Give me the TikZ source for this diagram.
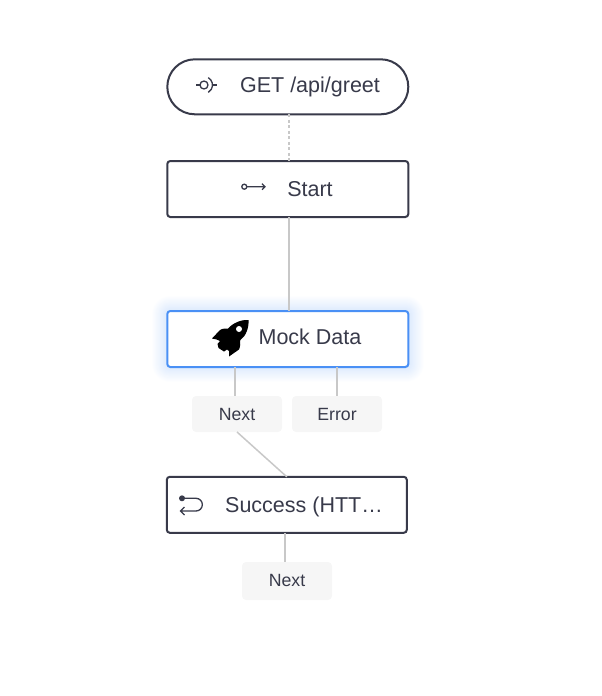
\documentclass[tikz,border=0pt]{standalone}
\usepackage{fontspec}
\setmainfont{Liberation Sans}
\definecolor{inkcol}{RGB}{56,58,74}
\definecolor{linkcol}{RGB}{200,200,200}
\definecolor{focuscol}{RGB}{74,144,245}
\definecolor{tagcol}{RGB}{246,246,246}
\tikzset{
  nbox/.style    = {draw=inkcol, line width=2pt, fill=white, rounded corners=3pt, outer sep=0pt, inner sep=0pt},
  nlab/.style    = {text=inkcol, anchor=base, inner sep=0pt, font=\fontsize{21.5}{24}\selectfont},
  taglab/.style  = {fill=tagcol, rounded corners=4pt, minimum width=90pt, outer sep=0pt, inner sep=0pt, text=inkcol, font=\fontsize{17.7}{20}\selectfont},
  elink/.style   = {draw=linkcol, line width=1.5pt},
  icon/.style    = {draw=inkcol, line width=1.3pt},
}
\begin{document}
\begin{tikzpicture}[x=1pt, y=-1pt]
\useasboundingbox (0,0) rectangle (602,696);
\foreach \g in {15,14,...,1} {
  \fill[focuscol, opacity=0.012, rounded corners=\g pt+3pt] (167-\g,311-\g) rectangle (409+\g,367+\g);
}
\node[nbox, rounded corners=27.5pt, minimum width=241pt, minimum height=55pt] (entry) at (287.8,86.8) {};
\node[nbox, minimum width=241pt, minimum height=56pt] (start) at (287.8,189) {};
\node[nbox, draw=focuscol, minimum width=241pt, minimum height=56pt] (mock) at (287.8,339) {};
\node[nbox, minimum width=240pt, minimum height=56pt] (success) at (286.8,504.8) {};
\node[taglab, minimum height=36pt] (mocknext) at (237,414) {\raisebox{-0.6pt}{Next}};
\node[taglab, minimum height=36pt] (mockerror) at (337,414) {\raisebox{-0.6pt}{Error}};
\node[taglab, minimum height=38pt] (successnext) at (287,581) {\raisebox{0.4pt}{Next}};

\node[nlab] (entrylab) at (310,92) {GET /api/greet};
\node[nlab] (startlab) at (310,196) {Start};
\node[nlab] (mocklab) at (310,344) {Mock Data};
\node[nlab] (successlab) at (304,512) {Success (HTT…};

\draw[elink, line width=1.2pt, dash pattern=on 3pt off 2.5pt] (entry.south -| 289,0) -- (start.north -| 289,0);
\draw[elink] (start.south -| 289,0) -- (mock.north -| 289,0);
\draw[elink] (mock.south -| 235,0) -- (mocknext.north -| 235,0);
\draw[elink] (mock.south -| 337,0) -- (mockerror.north -| 337,0);
\draw[elink] (mocknext.south) -- (success.north);
\draw[elink] (success.south -| 285,0) -- (successnext.north -| 285,0);

% icons
\draw[icon] (204,85) circle (4);
\draw[icon] (204,85) ++(-60:8.5) arc (-60:60:8.5);
\draw[icon] (196,85) -- (200,85) (212.5,85) -- (217,85);

\draw[icon] (244.3,186.7) circle (2.5);
\draw[icon] (246.8,186.7) -- (265,186.7) (262,183.7) -- (265,186.7) -- (262,189.7);

\fill[black] (248.5,320) .. controls (241,319.5) and (233,323) .. (228,328.5)
  .. controls (226,328.5) and (222,328.5) .. (220,330) -- (212,338.5)
  .. controls (215,339) and (218,339.5) .. (220,341)
  -- (217.5,344) -- (218.5,348) -- (224,351.5) -- (227,349.5)
  -- (229,351) .. controls (229.5,352) and (229,354) .. (229,356.5) -- (239,349.5)
  .. controls (240.5,346) and (240.5,343) .. (240,340.5)
  .. controls (246,336) and (249,328) .. (248.5,320) -- cycle;
\fill[white] (239,329) circle (3);

\fill[inkcol] (182,498.3) circle (3);
\draw[icon] (182,498.3) -- (196,498.3) arc (-90:90:6.35) -- (180.5,511) (184.5,507) -- (180.5,511) -- (184.5,515);
\end{tikzpicture}
\end{document}
